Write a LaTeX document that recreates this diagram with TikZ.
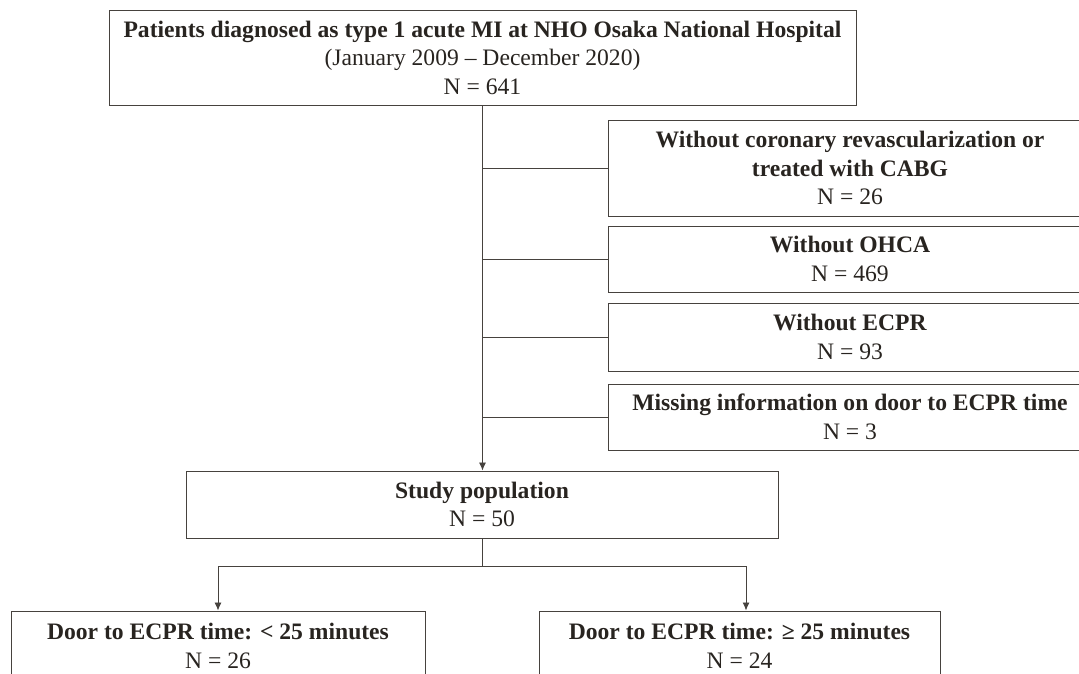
\documentclass[tikz,border=0pt]{standalone}
\usepackage{fontspec}
\setmainfont{Liberation Serif}
\usepackage{tikz}
\usetikzlibrary{arrows.meta,positioning}

\definecolor{linegray}{RGB}{70,66,62}
\definecolor{txt}{RGB}{40,36,32}

\begin{document}
\begin{tikzpicture}[x=1pt, y=-1pt, thick, >={Latex[length=8pt,width=7pt]},
    every node/.style={font=\fontsize{23.6}{28.5}\selectfont, text=txt},
    box/.style={draw=linegray, line width=1pt, rectangle, inner sep=0pt, align=center},
    link/.style={draw=linegray, line width=0.9pt}]
		\useasboundingbox (0,0) rectangle (1079,673);
		% source population
		\node[box, minimum width=747pt, minimum height=95pt] (pat) at (482.5,57.5)
			{\textbf{Patients diagnosed as type 1 acute MI at NHO Osaka National Hospital}\\(January 2009 -- December 2020)\\N = 641};
		% exclusions
		\node[box, minimum width=484pt, minimum height=96pt] (exa) at (850,168)
			{\textbf{Without coronary revascularization or}\\\textbf{treated with CABG}\\N = 26};
		\node[box, minimum width=484pt, minimum height=66pt] (exb) at (850,259)
			{\textbf{Without OHCA}\\N = 469};
		\node[box, minimum width=484pt, minimum height=68pt] (exc) at (850,337)
			{\textbf{Without ECPR}\\N = 93};
		\node[box, minimum width=484pt, minimum height=66pt] (exd) at (850,417)
			{\textbf{Missing information on door to ECPR time}\\N = 3};
		% study population
		\node[box, minimum width=592pt, minimum height=67pt] (study) at (482,504.5)
			{\textbf{Study population}\\N = 50};
		% groups
		\node[box, minimum width=414pt, minimum height=70pt] (early) at (218,646)
			{\textbf{Door to ECPR time: < 25 minutes}\\N = 26};
		\node[box, minimum width=401pt, minimum height=70pt] (late) at (739.5,646)
			{\textbf{Door to ECPR time: ≥ 25 minutes}\\N = 24};
		% connectors
		\draw[link, ->] (pat.south) -- (pat.south |- study.north);
		\foreach \ex in {exa,exb,exc,exd}
			\draw[link] (pat.south |- \ex.west) -- (\ex.west);
		\coordinate (splitl) at (218,566);
		\coordinate (splitr) at (746,566);
		\draw[link] (study.south) -- (study.south |- splitl);
		\draw[link] (splitl) -- (splitr);
		\draw[link, ->] (splitl) -- (splitl |- early.north);
		\draw[link, ->] (splitr) -- (splitr |- late.north);
	\end{tikzpicture}
\end{document}
